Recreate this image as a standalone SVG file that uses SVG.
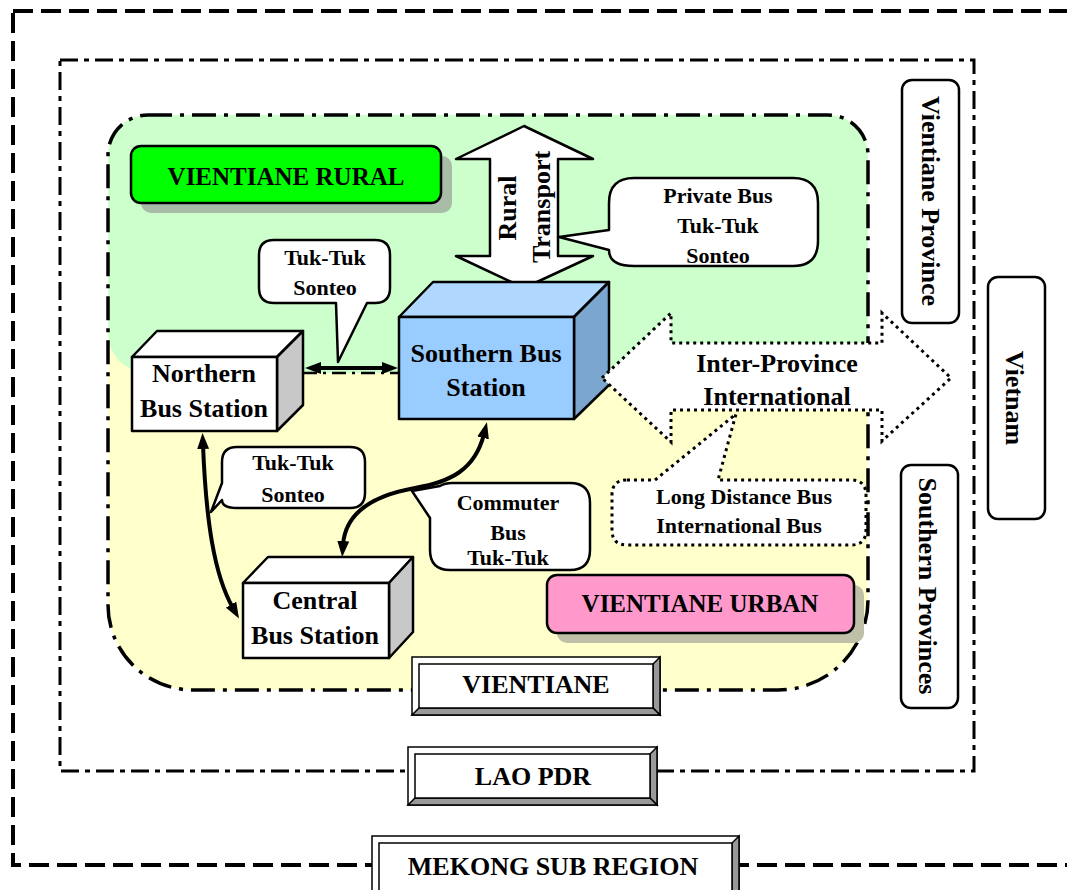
<svg xmlns="http://www.w3.org/2000/svg" width="1067" height="890" viewBox="0 0 1067 890">
<defs>
<style>
.t{font-family:"Liberation Serif","Times New Roman",serif;font-weight:bold;fill:#000;text-anchor:middle}
.f26{font-size:26px}.f25{font-size:25px}.f22{font-size:22px}
.box{stroke:#000;stroke-width:2.5;stroke-linejoin:round}
.call{fill:#fff;stroke:#000;stroke-width:2.5;stroke-linejoin:round}
.dot{fill:#fff;stroke:#000;stroke-width:3;stroke-dasharray:3 4}
.bev{stroke:#000;stroke-width:1.5;stroke-linejoin:miter}
.conn{fill:none;stroke:#000;stroke-width:4;marker-start:url(#ah);marker-end:url(#ah)}
</style>
<marker id="ah" viewBox="0 0 16 12" refX="4" refY="6" markerWidth="16" markerHeight="12" markerUnits="userSpaceOnUse" orient="auto-start-reverse"><path d="M0,0 L16,6 L0,12 z" fill="#000"/></marker>
</defs>
<rect width="1067" height="890" fill="#fff"/>

<g id="mekong-frame"><rect x="13" y="11" width="1075" height="854" fill="none" stroke="#000" stroke-width="4" stroke-dasharray="20 8"/></g>
<g id="lao-frame"><rect x="60" y="60" width="914" height="711" fill="none" stroke="#000" stroke-width="3" stroke-dasharray="18 6 5 6"/></g>

<g id="vientiane-frame">
<path d="M148,115 H828 A40,40 0 0 1 868,155 V600 A90,90 0 0 1 778,690 H193 A85,85 0 0 1 108,605 V155 A40,40 0 0 1 148,115 Z" fill="#ffffcc"/>
<path d="M148,115 H828 A40,40 0 0 1 868,155 V373 H148 A40,40 0 0 1 108,333 V155 A40,40 0 0 1 148,115 Z" fill="#ccffcc"/>
<line x1="303" y1="373" x2="399" y2="373" stroke="#000" stroke-width="2.5" stroke-dasharray="14 6 3 6"/>
<path d="M148,115 H828 A40,40 0 0 1 868,155 V600 A90,90 0 0 1 778,690 H193 A85,85 0 0 1 108,605 V155 A40,40 0 0 1 148,115 Z" fill="none" stroke="#000" stroke-width="3.5" stroke-dasharray="24 8 4 8"/>
</g>

<g id="vientiane-rural">
<rect x="141" y="156" width="311" height="57" rx="10" fill="#a8bca8"/>
<rect x="131" y="146" width="310" height="57" rx="10" fill="#00ff00" class="box"/>
<text class="t f25" x="286" y="185">VIENTIANE RURAL</text>
</g>

<g id="vientiane-urban">
<rect x="557" y="585" width="307" height="58" rx="10" fill="#c0c0a8"/>
<rect x="547" y="575" width="307" height="58" rx="10" fill="#ff99cc" class="box"/>
<text class="t f25" x="700" y="612">VIENTIANE URBAN</text>
</g>

<g id="rural-transport">
<polygon points="524,126 593,159 558,159 558,256 593,256 524,288 456,256 490,256 490,159 456,159" fill="#fff" class="box"/>
<text class="t f26" transform="translate(507,208) rotate(-90)" y="9">Rural</text>
<text class="t f26" transform="translate(541,207) rotate(-90)" y="9">Transport</text>
</g>

<g id="private-bus-callout">
<path d="M634,178 H793 Q818,178 818,203 V241 Q818,266 793,266 H634 Q609,266 609,250 L559,237 L609,230 V203 Q609,178 634,178 Z" class="call"/>
<text class="t f22" x="718" y="203">Private Bus</text>
<text class="t f22" x="718" y="233">Tuk-Tuk</text>
<text class="t f22" x="718" y="263">Sonteo</text>
</g>

<g id="tuktuk-top-callout">
<path d="M274,240 H375 Q390,240 390,255 V288 Q390,303 375,303 H367 L338,362 L336,303 H274 Q259,303 259,288 V255 Q259,240 274,240 Z" class="call"/>
<text class="t f22" x="325" y="265">Tuk-Tuk</text>
<text class="t f22" x="325" y="295">Sonteo</text>
</g>

<g id="northern-bus-station">
<polygon points="132,357 157,331 303,331 277,357" fill="#fff" class="box"/>
<polygon points="277,357 303,331 303,405 277,431" fill="#c8c8c8" class="box"/>
<rect x="132" y="357" width="145" height="74" fill="#fff" class="box"/>
<text class="t f26" x="204" y="382">Northern</text>
<text class="t f26" x="204" y="417">Bus Station</text>
</g>

<g id="southern-bus-station">
<polygon points="399,317 433,282 609,282 574,317" fill="#b0d8ff" class="box"/>
<polygon points="574,317 609,282 609,385 574,419" fill="#7aa6cf" class="box"/>
<rect x="399" y="317" width="175" height="102" fill="#99ccff" class="box"/>
<text class="t f26" x="486" y="362">Southern Bus</text>
<text class="t f26" x="486" y="396">Station</text>
</g>

<g id="central-bus-station">
<polygon points="243,583 268,557 413,557 389,583" fill="#fff" class="box"/>
<polygon points="389,583 413,557 413,632 389,658" fill="#c8c8c8" class="box"/>
<rect x="243" y="583" width="146" height="75" fill="#fff" class="box"/>
<text class="t f26" x="315" y="609">Central</text>
<text class="t f26" x="315" y="644">Bus Station</text>
</g>

<g id="tuktuk-mid-callout">
<path d="M237,447 H350 Q365,447 365,462 V493 Q365,508 350,508 H237 Q222,508 222,500 L211,512 L222,483 V462 Q222,447 237,447 Z" class="call"/>
<text class="t f22" x="293" y="470">Tuk-Tuk</text>
<text class="t f22" x="293" y="502">Sonteo</text>
</g>

<g id="commuter-callout">
<path d="M452,483 H570 Q590,483 590,503 V550 Q590,570 570,570 H450 Q430,570 430,550 V518 L412,491 L440,486 Q445,483 452,483 Z" class="call"/>
<text class="t f22" x="508" y="510">Commuter</text>
<text class="t f22" x="508" y="540">Bus</text>
<text class="t f22" x="508" y="565">Tuk-Tuk</text>
</g>

<g id="inter-province">
<polygon points="602,378 671,313 671,343 882,343 882,313 951,378 882,441 882,410 671,410 671,442" class="dot"/>
<text class="t f26" x="777" y="372">Inter-Province</text>
<text class="t f26" x="777" y="405">International</text>
</g>

<g id="long-distance-callout">
<path d="M627,480 H655 L736,414 L718,480 H851 Q866,480 866,495 V530 Q866,545 851,545 H627 Q612,545 612,530 V495 Q612,480 627,480 Z" class="dot"/>
<text class="t f22" x="744" y="504">Long Distance Bus</text>
<text class="t f22" x="739" y="533">International Bus</text>
</g>

<g id="vientiane-province">
<rect x="902" y="80" width="57" height="243" rx="10" fill="#fff" class="box"/>
<text class="t f26" transform="translate(931,201) rotate(90)" y="9">Vientiane Province</text>
</g>
<g id="southern-provinces">
<rect x="901" y="465" width="57" height="243" rx="10" fill="#fff" class="box"/>
<text class="t f26" transform="translate(928,586) rotate(90)" y="9">Southern Provinces</text>
</g>
<g id="vietnam">
<rect x="988" y="277" width="57" height="242" rx="10" fill="#fff" class="box"/>
<text class="t f26" transform="translate(1015,398) rotate(90)" y="9">Vietnam</text>
</g>

<g id="vientiane-label">
<rect x="412" y="657" width="248" height="58" fill="#fff" class="bev"/>
<polygon points="660,657 660,715 653,708 653,664" fill="#999" class="bev"/>
<polygon points="412,715 660,715 653,708 419,708" fill="#999" class="bev"/>
<rect x="419" y="664" width="234" height="44" fill="#fff" class="bev"/>
<text class="t f26" x="536" y="693">VIENTIANE</text>
</g>
<g id="lao-label">
<rect x="408" y="747" width="249" height="58" fill="#fff" class="bev"/>
<polygon points="657,747 657,805 650,798 650,754" fill="#999" class="bev"/>
<polygon points="408,805 657,805 650,798 415,798" fill="#999" class="bev"/>
<rect x="415" y="754" width="235" height="44" fill="#fff" class="bev"/>
<text class="t f26" x="533" y="785">LAO PDR</text>
</g>
<g id="mekong-label">
<rect x="372" y="836" width="367" height="62" fill="#fff" class="bev"/>
<polygon points="739,836 739,898 732,891 732,843" fill="#999" class="bev"/>
<rect x="379" y="843" width="353" height="48" fill="#fff" class="bev"/>
<text class="t f26" x="553" y="875">MEKONG SUB REGION</text>
</g>

<g id="connectors">
<line class="conn" x1="317" y1="368" x2="386" y2="368"/>
<path class="conn" d="M203,445 C206,520 214,575 233,608"/>
<path class="conn" d="M484,434 C475,470 450,482 415,488 C370,496 345,515 343,545"/>
</g>
</svg>
